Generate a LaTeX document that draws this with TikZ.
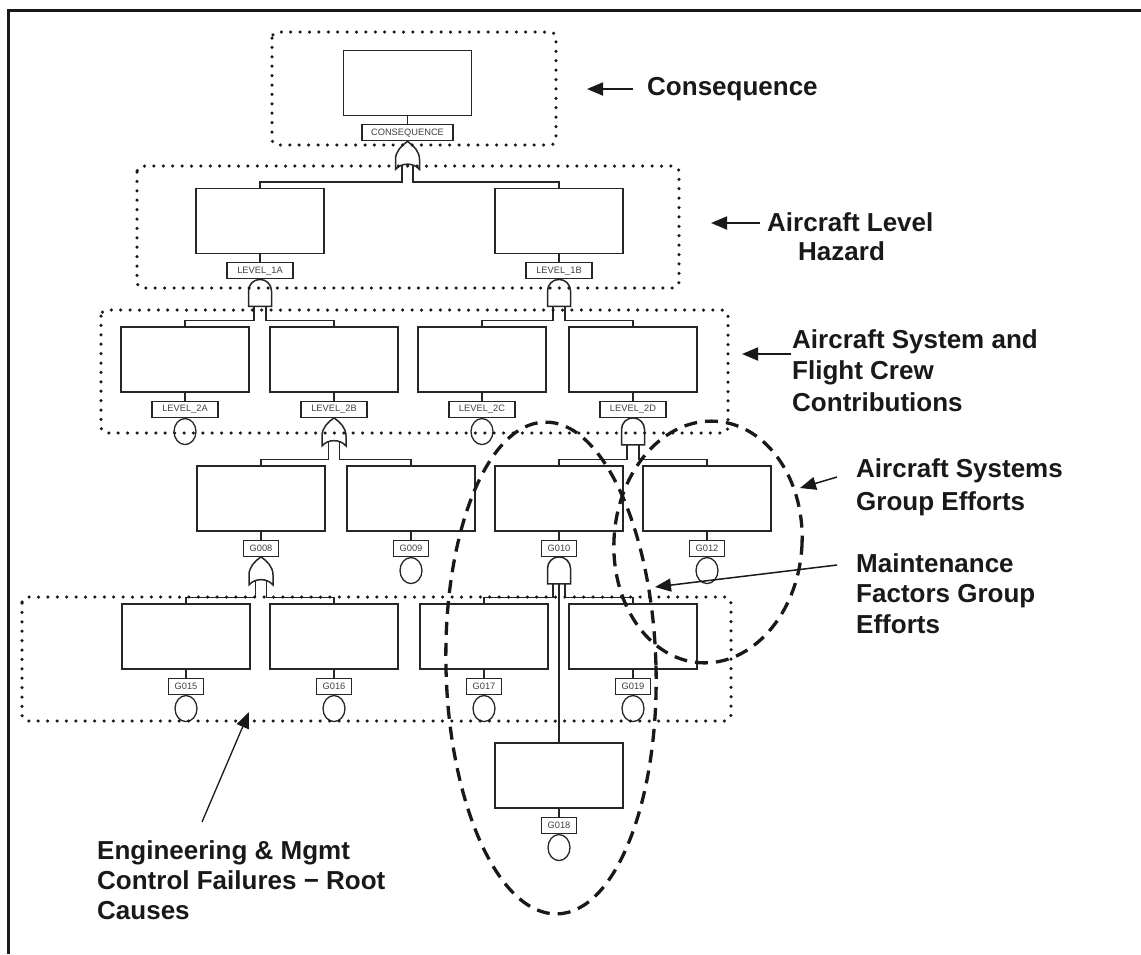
\documentclass[tikz,border=0pt]{standalone}
\usepackage{fontspec}
\setmainfont{Liberation Sans}
\usetikzlibrary{positioning,arrows.meta,shapes.geometric}

\tikzset{
  evbox/.style={draw=black!85, line width=1.4pt, minimum width=128pt, minimum height=65pt, inner sep=0pt},
  idtag/.style={draw=black!85, line width=1.2pt, minimum height=16pt, minimum width=#1, inner sep=0pt,
    font=\fontsize{9.3}{10}\selectfont, text=black!75},
  idtag/.default=35pt,
  basic/.style={draw=black!85, ellipse, line width=1.3pt, minimum width=22pt, minimum height=26pt, inner sep=0pt},
  wire/.style={draw=black!85, line width=1.5pt},
  tier/.style={draw=black!90, line width=3.5pt, line cap=round, dash pattern=on 0pt off 9.4pt, rounded corners=6pt},
  grpring/.style={draw=black!90, line width=3.3pt, dash pattern=on 13pt off 8pt},
  note/.style={font=\fontsize{26}{#1}\selectfont\bfseries, align=left, anchor=base west, inner sep=0pt, text=black!90},
  note/.default=31pt,
  pointer/.style={draw=black!90, line width=1.8pt, -{Triangle[length=16pt,width=13pt]}},
  orgate/.pic={
    \draw[wire] (0,0) .. controls (-6,4) and (-12,10) .. (-12,18) -- (-12,28)
      .. controls (-6,21) and (6,21) .. (12,28) -- (12,18) .. controls (12,10) and (6,4) .. cycle;
    \coordinate (-l) at (-5.5,24);
    \coordinate (-r) at (5.5,24);
  },
  andgate/.pic={
    \draw[wire] (-11.5,27) -- (-11.5,11.5) arc[start angle=180, end angle=0, radius=11.5pt] -- (11.5,27) -- cycle;
    \coordinate (-l) at (-6,27);
    \coordinate (-m) at (0,27);
    \coordinate (-r) at (6,27);
  },
}

\begin{document}
\begin{tikzpicture}[x=1pt, y=-1pt]
    \useasboundingbox (0,0) rectangle (1141,954);
    % Frame
    \draw[line width=2.6pt, black!90] (1141,10.5) -- (8.7,10.5) -- (8.7,954);
    % Events and their tags
    \node[evbox] (cons) at (407.5,83) {};
    \node[idtag=91pt, below=8pt of cons] (cons-t) {CONSEQUENCE};
    \foreach \n/\x/\lbl in {l1a/260/LEVEL\_1A, l1b/559/LEVEL\_1B} {
        \node[evbox] (\n) at (\x,221) {};
        \node[idtag=66pt, below=8pt of \n] (\n-t) {\lbl};
    }
    \foreach \n/\x/\lbl in {l2a/185/LEVEL\_2A, l2b/334/LEVEL\_2B, l2c/482/LEVEL\_2C, l2d/633/LEVEL\_2D} {
        \node[evbox] (\n) at (\x,359.5) {};
        \node[idtag=66pt, below=8pt of \n] (\n-t) {\lbl};
    }
    \foreach \n/\x/\lbl in {g008/261/G008, g009/411/G009, g010/559/G010, g012/707/G012} {
        \node[evbox] (\n) at (\x,498.5) {};
        \node[idtag, below=8pt of \n] (\n-t) {\lbl};
    }
    \foreach \n/\x/\lbl in {g015/186/G015, g016/334/G016, g017/484/G017, g019/633/G019} {
        \node[evbox] (\n) at (\x,636.5) {};
        \node[idtag, below=8pt of \n] (\n-t) {\lbl};
    }
    \node[evbox] (g018) at (559,775.5) {};
    \node[idtag, below=8pt of g018] (g018-t) {G018};
    \foreach \n in {cons,l1a,l1b,l2a,l2b,l2c,l2d,g008,g009,g010,g012,g015,g016,g017,g019,g018}
        \draw[wire] (\n.south) -- (\n-t.north);
    % Basic events
    \foreach \n in {l2a,l2c,g009,g012,g015,g016,g017,g019,g018}
        \node[basic, below=0pt of \n-t] (\n-e) {};
    % Gates
    \pic (gc) at (cons-t.south) {orgate};
    \pic (g1a) at (l1a-t.south) {andgate};
    \pic (g1b) at (l1b-t.south) {andgate};
    \pic (g2b) at (l2b-t.south) {orgate};
    \pic (g2d) at (l2d-t.south) {andgate};
    \pic (g08) at (g008-t.south) {orgate};
    \pic (g10) at (g010-t.south) {andgate};
    \foreach \g/\a/\b in {gc/l1a/l1b, g1a/l2a/l2b, g1b/l2c/l2d, g2b/g008/g009, g2d/g010/g012, g08/g015/g016, g10/g017/g019} {
        \draw[wire] (\g-l) |- ([yshift=6pt]\a.north) -- (\a.north);
        \draw[wire] (\g-r) |- ([yshift=6pt]\b.north) -- (\b.north);
    }
    \draw[wire] (g10-m) -- (g018.north);
    % Tiers
    \draw[tier] (272,32) rectangle (556,145);
    \draw[tier] (137,166) rectangle (679,288);
    \draw[tier] (101,310) rectangle (728,433);
    \draw[tier] (22,597) rectangle (731,721);
    % Groups
    \draw[grpring, rotate around={1.5:(551,668)}] (551,668) ellipse [x radius=105pt, y radius=246pt];
    \draw[grpring, rotate around={-4:(708,542)}] (708,542) ellipse [x radius=94pt, y radius=121pt];
    % Notes (anchored at the baseline of their last line)
    \node[note] (tCons) at (647,95) {Consequence};
    \node[note=29pt] (tHaz) at (767,260) {Aircraft Level\\\hspace*{31pt}Hazard};
    \node[note=31.5pt] (tSys) at (792,411) {Aircraft System and\\Flight Crew\\Contributions};
    \node[note=33pt] (tGrp) at (856,510) {Aircraft Systems\\Group Efforts};
    \node[note=30.5pt] (tMnt) at (856,633) {Maintenance\\Factors Group\\Efforts};
    \node[note=30pt] (tEng) at (97,919) {Engineering \& Mgmt\\Control Failures − Root\\Causes};
    % Pointers
    \coordinate (pCons) at (587,89);
    \coordinate (pHaz) at (711,223);
    \coordinate (pSys) at (742,354);
    \coordinate (pGrp) at (800,488);
    \coordinate (pMnt) at (655,587);
    \coordinate (pEng) at (249,712);
    \draw[pointer] ([xshift=-14pt,yshift=6pt]tCons.base west) -- (pCons);
    \draw[pointer] ([xshift=-7pt,yshift=37pt]tHaz.base west) -- (pHaz);
    \draw[pointer] ([xshift=-1pt,yshift=57pt]tSys.base west) -- (pSys);
    \draw[pointer, line width=1.5pt] ([xshift=-19pt,yshift=33pt]tGrp.base west) -- (pGrp);
    \draw[pointer, line width=1.5pt] ([xshift=-19pt,yshift=68pt]tMnt.base west) -- (pMnt);
    \draw[pointer, line width=1.3pt] ([xshift=105pt,yshift=97pt]tEng.base west) -- (pEng);
\end{tikzpicture}
\end{document}
